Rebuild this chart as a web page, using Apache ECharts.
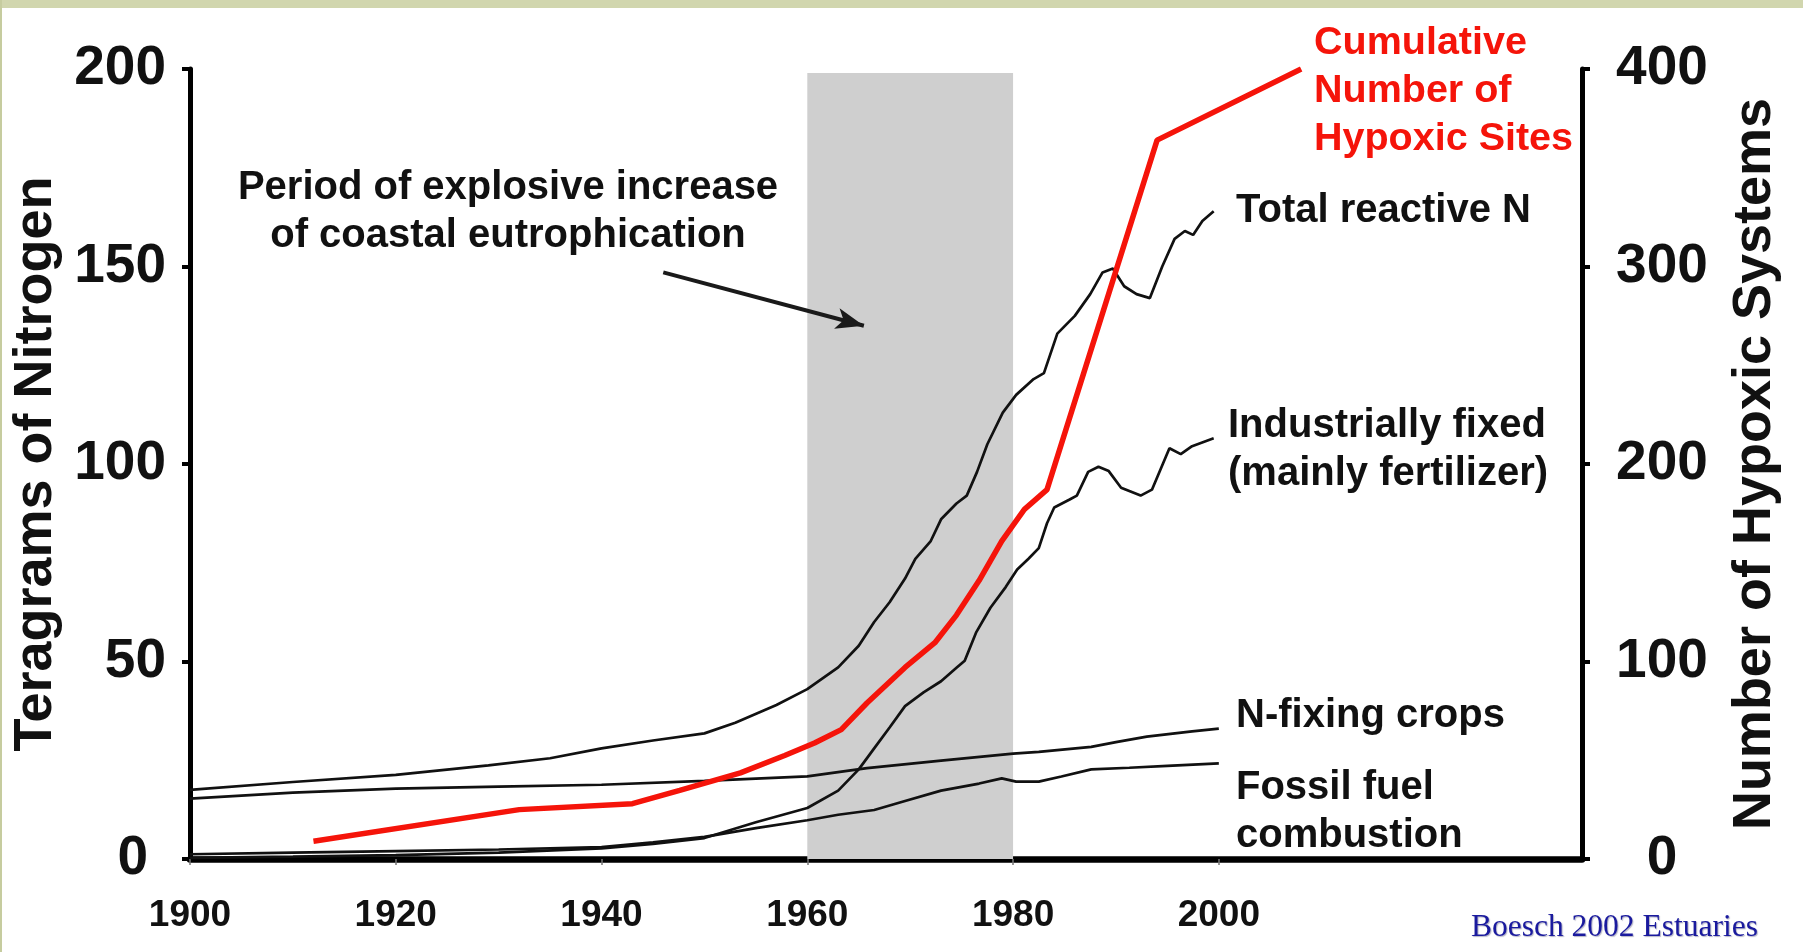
<!DOCTYPE html>
<html>
<head>
<meta charset="utf-8">
<script src="https://cdn.jsdelivr.net/npm/echarts@6/dist/echarts.min.js"></script>
<style>
  html, body { margin: 0; padding: 0; background: #ffffff; }
  #chart { width: 1803px; height: 952px; }
</style>
</head>
<body>
<div id="chart"></div>
<script>
// Total reactive nitrogen (Tg N per year)
const totalYears = [1900, 1910, 1920, 1929, 1935, 1940, 1945, 1950, 1953, 1957, 1960, 1963, 1965, 1966.5, 1968, 1969.5, 1970.5, 1972, 1973, 1974.5, 1975.5, 1976.5, 1977.5, 1979, 1980.3, 1982, 1983, 1984.3, 1986, 1987.5, 1988.7, 1989.7, 1990.8, 1992, 1993.3, 1994.5, 1995.7, 1996.7, 1997.5, 1998.4, 1999.5];
const totalN     = [17.5, 19.5, 21.3, 23.7, 25.5, 28, 30, 31.8, 34.5, 39, 43, 48.5, 54, 60, 65, 71, 76, 80.5, 86, 90, 92, 98, 105, 113, 117.5, 121.5, 123, 133, 137.5, 143, 148.5, 149.5, 145, 143, 142, 150, 157, 159, 158, 161.5, 164];

// Industrially fixed nitrogen (mainly fertilizer)
const industYears = [1900, 1910, 1920, 1930, 1940, 1945, 1950, 1955, 1960, 1963, 1965, 1966.5, 1968, 1969.5, 1971.3, 1973, 1974.5, 1975.3, 1976.4, 1977.8, 1979.3, 1980.4, 1981.5, 1982.5, 1983.3, 1984, 1985.5, 1986.2, 1987.3, 1988.3, 1989.3, 1990.5, 1992.4, 1993.5, 1995.2, 1996.3, 1997.4, 1999.5];
const industN     = [0.3, 0.6, 1, 1.6, 2.7, 3.8, 5.3, 9.3, 12.9, 17.3, 22.7, 28, 33.3, 38.7, 42.2, 45, 48.4, 50.2, 57.3, 63.6, 68.9, 73.3, 76, 78.7, 85, 89, 91, 92, 98, 99.3, 98.2, 94, 92, 93.5, 104, 102.5, 104.5, 106.5];

// Nitrogen fixed by leguminous crops
const cropYears = [1900, 1910, 1920, 1930, 1940, 1950, 1960, 1965.8, 1973, 1980, 1982.5, 1987.6, 1990, 1993, 1997.4, 2000];
const cropN     = [15.3, 16.8, 17.8, 18.3, 18.8, 19.8, 20.9, 23, 24.9, 26.7, 27.1, 28.4, 29.6, 31, 32.3, 33];

// Nitrogen released by fossil fuel combustion
const fossilYears = [1900, 1910, 1920, 1930, 1940, 1945, 1950, 1955, 1960, 1963, 1966.5, 1969.5, 1973, 1976.7, 1978.9, 1980.3, 1982.5, 1984.7, 1987.6, 1991.3, 1995, 2000];
const fossilN     = [1.2, 1.6, 2, 2.4, 3, 4.2, 5.6, 7.8, 9.8, 11.2, 12.4, 14.7, 17.3, 19.1, 20.4, 19.6, 19.6, 20.9, 22.7, 23.1, 23.6, 24.2];

// Cumulative number of hypoxic sites (right axis)
const hypoxicYears = [1912, 1932, 1943, 1947.6, 1953.5, 1957.8, 1960.7, 1963.3, 1965.8, 1969.5, 1972.4, 1974.5, 1976.7, 1978.9, 1981.1, 1983.3, 1994, 2008];
const hypoxicSites = [9, 25, 28, 34.7, 43.6, 52.4, 58.7, 65.5, 79, 97, 109.5, 123.5, 141, 161, 177, 187, 364, 400];

// Axis ticks
const yearTicks = [1900, 1920, 1940, 1960, 1980, 2000];
const nitrogenTicks = [0, 50, 100, 150, 200];
const siteTicks = [0, 100, 200, 300, 400];

// Shaded period of explosive eutrophication increase
const eutrophPeriod = [1960, 1980];
const eutrophTop = 199;
// Arrow pointing into the shaded period: [year, Tg N] tail and head
const arrowTail = [1946, 148.5];
const arrowHead = [1965.5, 135];

const pairs = (xs, ys) => xs.map((x, i) => [x, ys[i]]);

const SANS = '"Liberation Sans", Arial, Helvetica, sans-serif';
const chart = echarts.init(document.getElementById('chart'), null, { renderer: 'canvas' });

const blackLine = { color: '#111111', width: 2.7 };

const labelText = (text, x, y, color, size, align) => ({
  type: 'text', x: x, y: y, silent: true, z: 20,
  style: {
    text: text, fill: color || '#111111', font: 'bold ' + (size || 40) + 'px ' + SANS,
    align: align || 'left', verticalAlign: 'middle', lineHeight: 48
  }
});

chart.setOption({
  animation: false,
  backgroundColor: '#ffffff',
  grid: {
    left: 190, right: 221, top: 69, bottom: 93,
    containLabel: false, outerBoundsMode: 'none'
  },
  xAxis: {
    type: 'value', min: 1900, max: 2035.3,
    axisLine: { show: true, lineStyle: { color: '#000000', width: 6.5 } },
    axisTick: { show: true, customValues: yearTicks, length: 6, lineStyle: { color: '#777777', width: 1.5 } },
    axisLabel: {
      customValues: yearTicks, margin: 38, color: '#111111',
      fontFamily: SANS, fontWeight: 'bold', fontSize: 37,
      formatter: v => String(v)
    },
    splitLine: { show: false }
  },
  yAxis: [
    {
      type: 'value', min: 0, max: 200, interval: 50, position: 'left',
      name: 'Teragrams of Nitrogen', nameLocation: 'middle', nameRotate: 90, nameGap: 121,
      nameTextStyle: { color: '#111111', fontFamily: SANS, fontWeight: 'bold', fontSize: 54 },
      axisLine: { show: true, lineStyle: { color: '#000000', width: 5 } },
      axisTick: { show: true, customValues: nitrogenTicks, length: 8, lineStyle: { color: '#000000', width: 4 } },
      axisLabel: {
        customValues: nitrogenTicks, margin: 24, color: '#111111',
        fontFamily: SANS, fontWeight: 'bold', fontSize: 55,
        formatter: v => v === 0 ? '{z|0}' : String(v),
        rich: { z: { fontFamily: SANS, fontWeight: 'bold', fontSize: 55, color: '#111111', padding: [0, 18, 0, 0] } }
      },
      splitLine: { show: false }
    },
    {
      type: 'value', min: 0, max: 400, interval: 100, position: 'right',
      name: 'Number of Hypoxic Systems', nameLocation: 'middle', nameRotate: 90, nameGap: 146,
      nameTextStyle: { color: '#111111', fontFamily: SANS, fontWeight: 'bold', fontSize: 54 },
      axisLine: { show: true, lineStyle: { color: '#000000', width: 5 } },
      axisTick: { show: true, customValues: siteTicks, length: 8, lineStyle: { color: '#000000', width: 4 } },
      axisLabel: {
        customValues: siteTicks, margin: 80, align: 'center', color: '#111111',
        fontFamily: SANS, fontWeight: 'bold', fontSize: 55
      },
      splitLine: { show: false }
    }
  ],
  series: [
    {
      name: 'Total reactive N', type: 'line', yAxisIndex: 0,
      data: pairs(totalYears, totalN), showSymbol: false, smooth: false,
      lineStyle: blackLine, z: 3,
      markArea: {
        silent: true,
        itemStyle: { color: '#cfcfcf' },
        data: [[{ coord: [eutrophPeriod[0], 0] }, { coord: [eutrophPeriod[1], eutrophTop] }]]
      },
      markLine: {
        silent: true, animation: false,
        symbol: ['none', 'arrow'], symbolSize: [16, 28],
        lineStyle: { color: '#1a1a1a', width: 4, type: 'solid' },
        label: { show: false },
        data: [[{ coord: arrowTail }, { coord: arrowHead }]]
      }
    },
    {
      name: 'Industrially fixed', type: 'line', yAxisIndex: 0,
      data: pairs(industYears, industN), showSymbol: false, smooth: false,
      lineStyle: blackLine, z: 3
    },
    {
      name: 'N-fixing crops', type: 'line', yAxisIndex: 0,
      data: pairs(cropYears, cropN), showSymbol: false, smooth: false,
      lineStyle: blackLine, z: 3
    },
    {
      name: 'Fossil fuel combustion', type: 'line', yAxisIndex: 0,
      data: pairs(fossilYears, fossilN), showSymbol: false, smooth: false,
      lineStyle: blackLine, z: 3
    },
    {
      name: 'Cumulative Number of Hypoxic Sites', type: 'line', yAxisIndex: 1,
      data: pairs(hypoxicYears, hypoxicSites), showSymbol: false, smooth: false,
      lineStyle: { color: '#f5140a', width: 5.5 }, z: 5
    }
  ],
  graphic: [
    // slide frame
    { type: 'rect', shape: { x: 0, y: 0, width: 1803, height: 8 }, style: { fill: '#d1d6ae' }, silent: true, z: 30 },
    { type: 'rect', shape: { x: 0, y: 0, width: 2, height: 952 }, style: { fill: '#c6cc9f' }, silent: true, z: 30 },
    // annotation of the shaded period
    labelText('Period of explosive increase\nof coastal eutrophication', 508, 212, '#111111', 40, 'center'),
    // series labels
    labelText('Cumulative\nNumber of\nHypoxic Sites', 1314, 91, '#f5140a', 39.5),
    labelText('Total reactive N', 1236, 211),
    labelText('Industrially fixed\n(mainly fertilizer)', 1228, 450),
    labelText('N-fixing crops', 1236, 716),
    labelText('Fossil fuel\ncombustion', 1236, 812),
    // citation
    {
      type: 'text', x: 1471, y: 928, silent: true, z: 20,
      style: {
        text: 'Boesch 2002 Estuaries', fill: '#1a1a9e',
        font: '31.5px "Liberation Serif", "Times New Roman", serif',
        align: 'left', verticalAlign: 'middle',
        textShadowColor: 'rgba(40,40,90,0.35)', textShadowBlur: 1, textShadowOffsetX: 1, textShadowOffsetY: 1
      }
    }
  ]
});
</script>
</body>
</html>
